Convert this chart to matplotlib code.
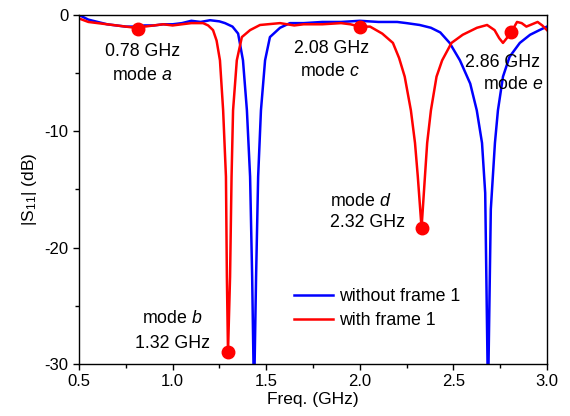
import matplotlib
matplotlib.use("Agg")
import matplotlib.pyplot as plt
from matplotlib.ticker import MultipleLocator

plt.rcParams['font.family'] = ['Liberation Sans', 'DejaVu Sans']
plt.rcParams['mathtext.fontset'] = 'custom'
plt.rcParams['mathtext.rm'] = 'Liberation Sans'
plt.rcParams['mathtext.it'] = 'Liberation Sans:italic'
plt.rcParams['axes.unicode_minus'] = False
plt.rcParams['font.size'] = 12.8

# without frame 1 (blue)
freq_without = [0.50, 0.55, 0.60, 0.65, 0.70, 0.75, 0.80, 0.85, 0.90, 0.95,
                1.00, 1.05, 1.10, 1.15, 1.20, 1.25, 1.28, 1.32, 1.35, 1.376,
                1.397, 1.414, 1.425, 1.435, 1.446, 1.457, 1.472, 1.494, 1.52, 1.574,
                1.627, 1.70, 1.80, 1.90, 2.00, 2.10, 2.20, 2.25, 2.32, 2.38,
                2.43, 2.48, 2.535, 2.59, 2.625, 2.653, 2.67, 2.685, 2.70, 2.722,
                2.738, 2.765, 2.80, 2.855, 2.91, 2.96, 3.00]
s11_without = [0.0, -0.4, -0.6, -0.8, -0.9, -1.0, -1.0, -0.9, -0.9, -0.8,
               -0.8, -0.7, -0.5, -0.6, -0.45, -0.55, -0.7, -1.0, -1.6, -3.9,
               -8.2, -13.9, -22.5, -33, -22.5, -13.9, -8.2, -3.9, -1.9, -1.1,
               -0.7, -0.7, -0.6, -0.6, -0.5, -0.6, -0.6, -0.7, -0.86, -1.1,
               -1.5, -2.4, -3.9, -5.9, -8.2, -11, -15.3, -33, -16.7, -11,
               -8.2, -5.3, -3.6, -2.4, -1.7, -1.3, -1.0]

# with frame 1 (red)
freq_with = [0.50, 0.55, 0.60, 0.65, 0.70, 0.75, 0.80, 0.85, 0.90, 0.95,
             1.00, 1.05, 1.10, 1.163, 1.19, 1.216, 1.235, 1.253, 1.27, 1.285,
             1.29, 1.296, 1.307, 1.315, 1.323, 1.343, 1.37, 1.414, 1.467, 1.574,
             1.65, 1.70, 1.80, 1.90, 1.95, 2.00, 2.055, 2.12, 2.177, 2.21,
             2.24, 2.273, 2.295, 2.31, 2.33, 2.348, 2.36, 2.38, 2.41, 2.44,
             2.49, 2.55, 2.626, 2.68, 2.72, 2.745, 2.765, 2.785, 2.81, 2.84,
             2.865, 2.89, 2.92, 2.95, 2.975, 3.00]
s11_with = [-0.3, -0.6, -0.7, -0.8, -0.9, -1.0, -1.1, -1.0, -0.9, -0.8,
            -0.9, -0.8, -0.7, -0.7, -0.9, -1.3, -2.2, -3.9, -8.2, -13.9,
            -22.5, -29, -22.5, -13.9, -8.2, -3.9, -1.9, -1.3, -0.86, -0.7,
            -0.9, -0.8, -0.8, -0.7, -0.8, -1.0, -1.0, -1.6, -2.4, -3.7,
            -5.3, -8.2, -11, -13.9, -18.3, -13.9, -11, -8.2, -5.3, -3.9,
            -2.4, -1.7, -1.1, -0.86, -1.3, -2.0, -2.4, -2.0, -1.45, -0.6,
            -0.7, -1.0, -0.8, -0.6, -0.9, -1.3]

# marked modes
mode_freq = [0.815, 1.296, 2.0, 2.33, 2.81]
mode_s11 = [-1.2, -29.0, -1.05, -18.3, -1.45]

fig = plt.figure(figsize=(5.7, 4.16), dpi=100)
ax = fig.add_axes((0.1386, 0.125, 0.8210, 0.839))

ax.plot(freq_without, s11_without, color='#0000ff', lw=1.8, label='without frame 1')
ax.plot(freq_with, s11_with, color='#ff0000', lw=1.8, label='with frame 1')
ax.plot(mode_freq, mode_s11, 'o', color='#ff0000', ms=9, zorder=5)

# labels for the modes
ax.text(0.84, -3.15, '0.78 GHz', ha='center', va='center')
ax.text(0.84, -5.2, 'mode $a$', ha='center', va='center')
ax.text(1.0, -26.1, 'mode $b$', ha='center', va='center')
ax.text(1.0, -28.2, '1.32 GHz', ha='center', va='center')
ax.text(1.85, -2.85, '2.08 GHz', ha='center', va='center')
ax.text(1.84, -4.9, 'mode $c$', ha='center', va='center')
ax.text(1.84, -16.05, 'mode $d$', ha='left', va='center')
ax.text(1.84, -17.8, '2.32 GHz', ha='left', va='center')
ax.text(2.76, -4.05, '2.86 GHz', ha='center', va='center')
ax.text(2.82, -6.0, 'mode $e$', ha='center', va='center')

ax.set_xlim(0.5, 3.0)
ax.set_ylim(-30, 0)
ax.xaxis.set_major_locator(MultipleLocator(0.5))
ax.xaxis.set_minor_locator(MultipleLocator(0.25))
ax.yaxis.set_major_locator(MultipleLocator(10))
ax.yaxis.set_minor_locator(MultipleLocator(5))
ax.tick_params(which='both', direction='out', top=False, right=False, width=1.0,
               labelsize=12)
ax.tick_params(which='major', length=4)
ax.tick_params(which='minor', length=3)
for sp in ax.spines.values():
    sp.set_linewidth(1.0)

ax.set_xlabel('Freq. (GHz)', labelpad=2, fontsize=12.5)
ax.set_ylabel(r'|S$_{11}$| (dB)', labelpad=4, fontsize=12.5)

ax.legend(loc='center left', bbox_to_anchor=(0.445, 0.159), frameon=False,
          handlelength=2.2, handletextpad=0.3, labelspacing=0.4, borderaxespad=0)

fig.savefig('out.png', dpi=100)
